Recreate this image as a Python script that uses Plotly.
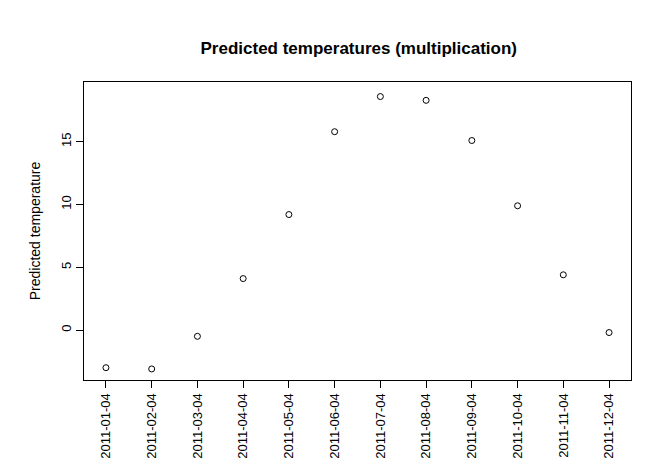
import plotly.graph_objects as go

dates = ['2011-01-04', '2011-02-04', '2011-03-04', '2011-04-04', '2011-05-04', '2011-06-04',
         '2011-07-04', '2011-08-04', '2011-09-04', '2011-10-04', '2011-11-04', '2011-12-04']
temps = [-3.0, -3.1, -0.5, 4.1, 9.2, 15.8, 18.6, 18.3, 15.1, 9.9, 4.4, -0.2]

idx = list(range(len(dates)))

fig = go.Figure()
fig.add_trace(go.Scatter(
    x=idx, y=temps, mode='markers',
    marker=dict(symbol='circle-open', size=6, color='black', line=dict(width=1)),
))

fig.update_layout(
    width=663, height=471,
    plot_bgcolor='white', paper_bgcolor='white',
    margin=dict(l=76, r=40, t=74, b=99, autoexpand=False),
    showlegend=False,
    font=dict(family='Liberation Sans, Arial', size=13, color='black'),
    title=dict(text='<b>Predicted temperatures (multiplication)</b>', x=0.529, xanchor='center',
               y=0.915, yanchor='middle', font=dict(size=17)),
)
fig.update_xaxes(
    range=[-0.48, 11.48], tickvals=idx, ticktext=dates, tickangle=-90, automargin=False,
    showgrid=False, zeroline=False, showline=True, linecolor='black', mirror=True,
    ticks='outside', ticklen=7, tickcolor='black', tickfont=dict(size=13),
)
fig.update_yaxes(
    range=[-3.98, 19.76], tickvals=[0, 5, 10, 15], tickangle=-90, automargin=False,
    title=dict(text='Predicted temperature', standoff=14, font=dict(size=14)),
    showgrid=False, zeroline=False, showline=True, linecolor='black', mirror=True,
    ticks='outside', ticklen=7, tickcolor='black', tickfont=dict(size=13),
)

fig.write_html("out.html")
